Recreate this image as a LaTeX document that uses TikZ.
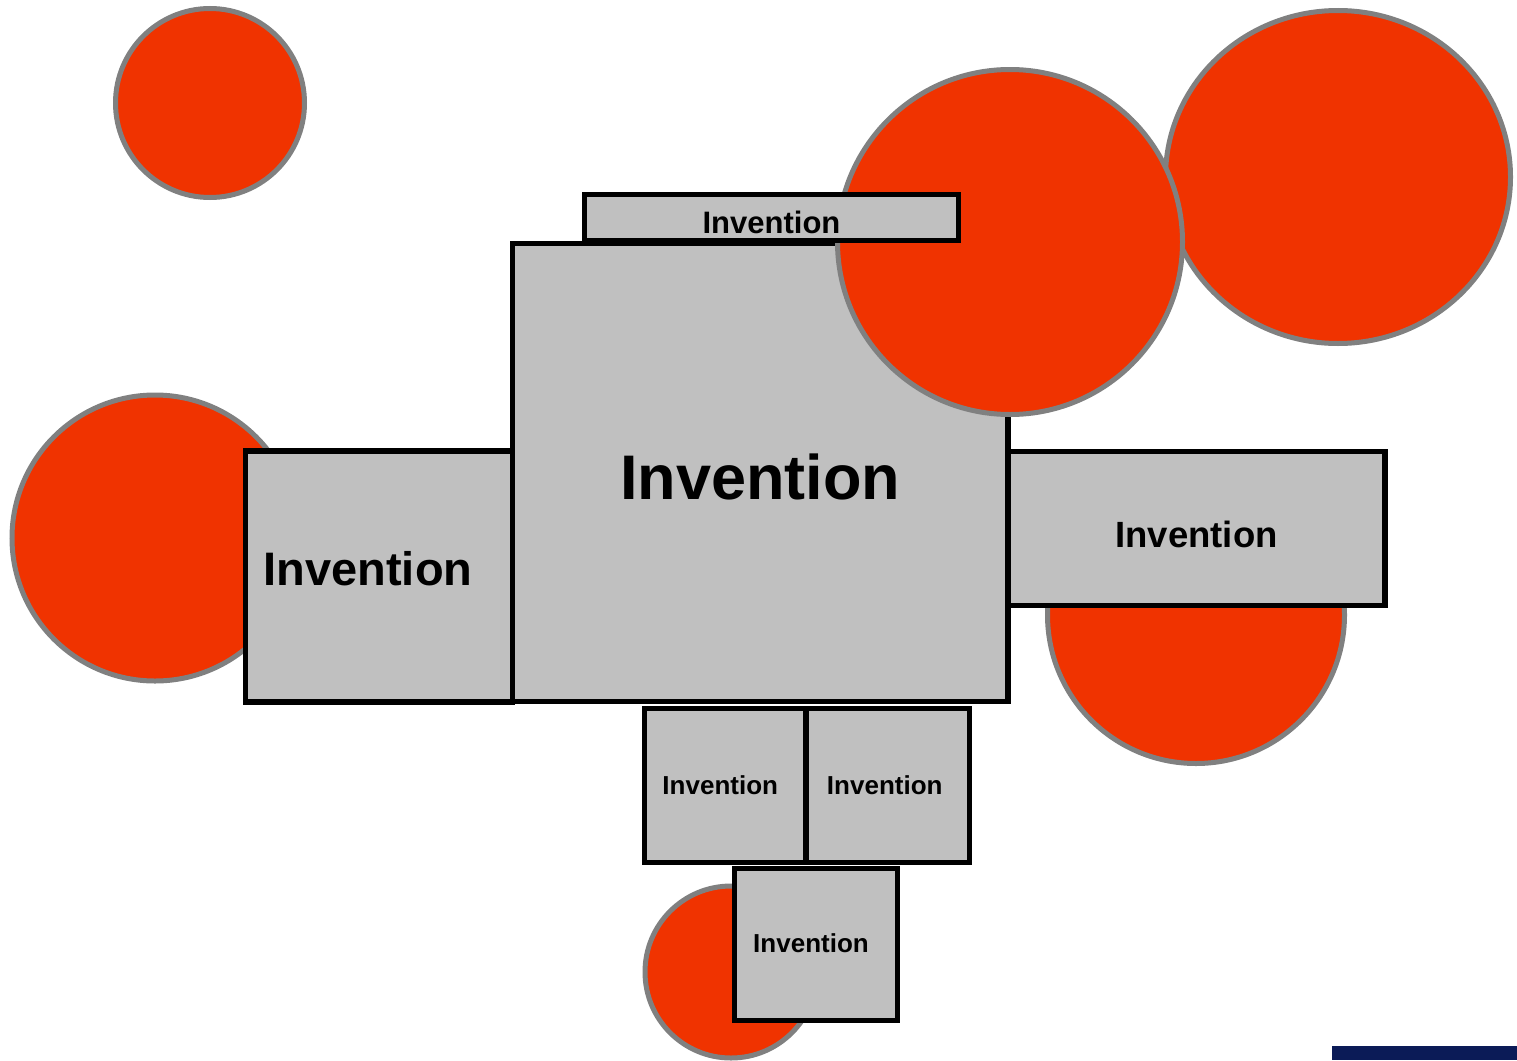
\documentclass[tikz,border=0pt]{standalone}
\usepackage{fontspec}
\setmainfont{Liberation Sans}
\usetikzlibrary{shapes.geometric}
\definecolor{blobred}{RGB}{240,51,0}
\definecolor{blobgray}{RGB}{128,128,128}
\definecolor{boxgray}{RGB}{192,192,192}
\definecolor{navy}{RGB}{11,27,87}
\newcommand{\shiftlab}[2]{\raisebox{#1}[\height][\depth]{#2}}
\tikzset{
  blob/.style={circle, draw=blobgray, fill=blobred, line width=5pt, inner sep=0pt},
  blobel/.style={ellipse, draw=blobgray, fill=blobred, line width=5pt, inner sep=0pt},
  box/.style={rectangle, draw=black, fill=boxgray, line width=5.5pt, inner sep=0pt, font=\bfseries},
}
\begin{document}
\begin{tikzpicture}[x=1pt,y=-1pt]
\useasboundingbox (0,0) rectangle (1517,1060);
% background circles
\node[blob, minimum size=189pt] (c1) at (210,103) {};
\node[blobel, minimum width=345pt, minimum height=333pt] (c2) at (1338,177) {};
\node[blob, minimum size=286pt] (c4) at (155,538) {};
\node[blob, minimum size=297pt] (c5) at (1196,615) {};
\node[blob, minimum size=172pt] (c6) at (731,972) {};
% boxes
\node[box, minimum width=267pt, minimum height=251pt, font=\bfseries\fontsize{47}{50}\selectfont] (left) at (379,576.5) {\hspace*{-22pt}\shiftlab{8pt}{Invention}};
\node[box, minimum width=377pt, minimum height=154pt, font=\bfseries\fontsize{36.5}{40}\selectfont] (right) at (1196.5,528.5) {\shiftlab{-6pt}{Invention}};
\node[box, minimum width=495.5pt, minimum height=458pt, font=\bfseries\fontsize{63}{66}\selectfont] (main) at (760.25,472.5) {\shiftlab{-4pt}{Invention}};
\node[box, minimum width=161.5pt, minimum height=154pt, font=\bfseries\fontsize{26}{30}\selectfont] (bl) at (725.25,785.5) {\hspace*{-10pt}Invention};
\node[box, minimum width=163.5pt, minimum height=154pt, font=\bfseries\fontsize{26}{30}\selectfont] (br) at (887.75,785.5) {\hspace*{-6pt}Invention};
\node[box, minimum width=163pt, minimum height=152pt, font=\bfseries\fontsize{26}{30}\selectfont] (bot) at (816,944.5) {\hspace*{-10pt}\shiftlab{1pt}{Invention}};
% overlapping circle and top box
\node[blob, minimum size=345pt] (c3) at (1010,242) {};
\node[box, minimum width=374pt, minimum height=46pt, font=\bfseries\fontsize{31}{34}\selectfont] (top) at (771.5,217.5) {\shiftlab{-5pt}{Invention}};
% navy bar
\node[rectangle, fill=navy, draw=none, minimum width=185pt, minimum height=14pt, inner sep=0pt, anchor=north west] (bar) at (1332,1046) {};
\end{tikzpicture}
\end{document}
